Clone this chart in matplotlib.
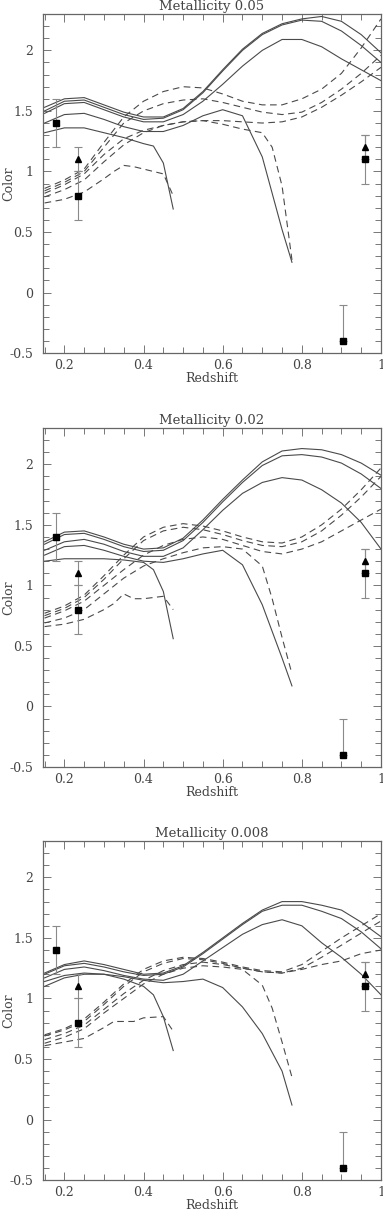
import numpy as np
import matplotlib
matplotlib.use("Agg")
import matplotlib.pyplot as plt
from matplotlib.ticker import MultipleLocator, FormatStrFormatter

plt.rcParams['font.family'] = ['DejaVu Serif']
plt.rcParams['axes.unicode_minus'] = False

# redshift grids
z = [0.15, 0.2, 0.25, 0.3, 0.35, 0.4, 0.45, 0.5, 0.55, 0.6, 0.65, 0.7, 0.75, 0.8, 0.85, 0.9, 0.95, 1.0]
z_s4 = [0.15, 0.2, 0.25, 0.3, 0.35, 0.4, 0.45, 0.5, 0.55, 0.6, 0.65, 0.7, 0.75, 0.775]
z_s5 = [0.15, 0.2, 0.25, 0.3, 0.35, 0.4, 0.425, 0.45, 0.475]
z_d4 = [0.15, 0.2, 0.25, 0.3, 0.35, 0.4, 0.45, 0.5, 0.55, 0.6, 0.65, 0.7, 0.725, 0.75, 0.775]
z_d5 = [0.15, 0.2, 0.25, 0.3, 0.325, 0.35, 0.375, 0.4, 0.45, 0.475]

titles = ["Metallicity 0.05", "Metallicity 0.02", "Metallicity 0.008"]

# Metallicity 0.05 - solid models
m05_s1 = [1.53, 1.60, 1.61, 1.55, 1.49, 1.45, 1.45, 1.52, 1.66, 1.84, 2.01, 2.14, 2.22, 2.26, 2.28, 2.24, 2.13, 1.98]
m05_s2 = [1.50, 1.58, 1.59, 1.53, 1.47, 1.43, 1.44, 1.51, 1.65, 1.83, 2.00, 2.13, 2.21, 2.25, 2.24, 2.16, 2.04, 1.90]
m05_s3 = [1.48, 1.56, 1.57, 1.51, 1.45, 1.41, 1.41, 1.47, 1.58, 1.72, 1.87, 2.00, 2.09, 2.09, 2.03, 1.93, 1.84, 1.75]
m05_s4 = [1.40, 1.47, 1.48, 1.43, 1.37, 1.33, 1.33, 1.38, 1.46, 1.51, 1.46, 1.12, 0.52, 0.25]
m05_s5 = [1.32, 1.36, 1.36, 1.32, 1.28, 1.23, 1.21, 1.07, 0.69]
# Metallicity 0.05 - dashed models
m05_d1 = [0.86, 0.93, 1.02, 1.24, 1.45, 1.58, 1.66, 1.70, 1.69, 1.64, 1.58, 1.55, 1.55, 1.60, 1.68, 1.81, 2.02, 2.26]
m05_d2 = [0.84, 0.91, 1.00, 1.20, 1.40, 1.50, 1.56, 1.59, 1.60, 1.57, 1.53, 1.49, 1.47, 1.49, 1.57, 1.68, 1.81, 1.96]
m05_d3 = [0.82, 0.89, 0.98, 1.14, 1.27, 1.34, 1.38, 1.41, 1.42, 1.42, 1.41, 1.40, 1.41, 1.45, 1.53, 1.63, 1.74, 1.86]
m05_d4 = [0.79, 0.85, 0.93, 1.08, 1.22, 1.32, 1.38, 1.41, 1.42, 1.39, 1.35, 1.32, 1.20, 0.88, 0.27]
m05_d5 = [0.74, 0.77, 0.83, 0.94, 1.00, 1.05, 1.04, 1.02, 0.98, 0.80]

# Metallicity 0.02
m02_s1 = [1.36, 1.44, 1.45, 1.40, 1.34, 1.30, 1.31, 1.39, 1.54, 1.71, 1.87, 2.02, 2.11, 2.13, 2.12, 2.08, 2.01, 1.91]
m02_s2 = [1.34, 1.42, 1.43, 1.38, 1.32, 1.28, 1.29, 1.37, 1.52, 1.69, 1.85, 1.99, 2.07, 2.08, 2.06, 2.01, 1.92, 1.80]
m02_s3 = [1.29, 1.36, 1.38, 1.34, 1.28, 1.24, 1.24, 1.31, 1.46, 1.62, 1.76, 1.85, 1.89, 1.87, 1.79, 1.68, 1.52, 1.30]
m02_s4 = [1.25, 1.32, 1.33, 1.29, 1.24, 1.20, 1.19, 1.22, 1.26, 1.29, 1.17, 0.84, 0.40, 0.17]
m02_s5 = [1.20, 1.22, 1.22, 1.22, 1.21, 1.19, 1.13, 0.95, 0.56]
m02_d1 = [0.77, 0.83, 0.92, 1.08, 1.25, 1.40, 1.48, 1.51, 1.49, 1.45, 1.40, 1.36, 1.35, 1.40, 1.50, 1.63, 1.79, 1.97]
m02_d2 = [0.75, 0.81, 0.90, 1.05, 1.22, 1.37, 1.45, 1.48, 1.46, 1.42, 1.37, 1.33, 1.32, 1.36, 1.45, 1.58, 1.73, 1.90]
m02_d3 = [0.73, 0.79, 0.87, 1.00, 1.13, 1.25, 1.33, 1.38, 1.40, 1.38, 1.33, 1.28, 1.26, 1.30, 1.36, 1.45, 1.54, 1.63]
m02_d4 = [0.69, 0.73, 0.80, 0.93, 1.06, 1.16, 1.22, 1.27, 1.31, 1.32, 1.30, 1.16, 0.89, 0.57, 0.27]
m02_d5 = [0.66, 0.68, 0.72, 0.80, 0.85, 0.93, 0.89, 0.89, 0.91, 0.80]

# Metallicity 0.008
m008_s1 = [1.21, 1.28, 1.31, 1.28, 1.24, 1.20, 1.21, 1.27, 1.38, 1.50, 1.62, 1.73, 1.80, 1.80, 1.77, 1.73, 1.63, 1.51]
m008_s2 = [1.20, 1.27, 1.29, 1.26, 1.22, 1.19, 1.20, 1.26, 1.37, 1.49, 1.61, 1.72, 1.77, 1.77, 1.72, 1.66, 1.55, 1.41]
m008_s3 = [1.17, 1.24, 1.26, 1.23, 1.19, 1.16, 1.15, 1.20, 1.31, 1.42, 1.53, 1.61, 1.65, 1.60, 1.46, 1.34, 1.20, 1.03]
m008_s4 = [1.10, 1.17, 1.20, 1.20, 1.18, 1.15, 1.13, 1.14, 1.16, 1.09, 0.93, 0.71, 0.40, 0.12]
m008_s5 = [1.14, 1.19, 1.21, 1.20, 1.16, 1.10, 1.03, 0.85, 0.57]
m008_d1 = [0.70, 0.75, 0.83, 0.97, 1.12, 1.24, 1.31, 1.34, 1.33, 1.30, 1.26, 1.23, 1.22, 1.28, 1.39, 1.50, 1.60, 1.70]
m008_d2 = [0.69, 0.74, 0.81, 0.95, 1.10, 1.22, 1.29, 1.33, 1.32, 1.29, 1.25, 1.22, 1.21, 1.25, 1.34, 1.44, 1.54, 1.64]
m008_d3 = [0.66, 0.71, 0.78, 0.91, 1.04, 1.15, 1.23, 1.28, 1.30, 1.28, 1.25, 1.22, 1.21, 1.24, 1.28, 1.31, 1.37, 1.40]
m008_d4 = [0.63, 0.68, 0.75, 0.88, 1.00, 1.12, 1.20, 1.25, 1.27, 1.26, 1.24, 1.11, 0.92, 0.64, 0.35]
m008_d5 = [0.61, 0.64, 0.67, 0.76, 0.81, 0.81, 0.81, 0.84, 0.85, 0.73]

# observed galaxies (same in every panel)
sq_z = [0.18, 0.235, 0.96, 0.905]
sq_c = [1.4, 0.8, 1.1, -0.4]
sq_err_lo = [0.2, 0.2, 0.2, 0.0]
sq_err_hi = [0.2, 0.2, 0.2, 0.3]
tri_z = [0.235, 0.96]
tri_c = [1.1, 1.2]
tri_err = [0.1, 0.1]

solid = [(m05_s1, m05_s2, m05_s3, m05_s4, m05_s5),
         (m02_s1, m02_s2, m02_s3, m02_s4, m02_s5),
         (m008_s1, m008_s2, m008_s3, m008_s4, m008_s5)]
dashed = [(m05_d1, m05_d2, m05_d3, m05_d4, m05_d5),
          (m02_d1, m02_d2, m02_d3, m02_d4, m02_d5),
          (m008_d1, m008_d2, m008_d3, m008_d4, m008_d5)]

line_col = '#4a4a4a'
text_col = '#444444'

fig = plt.figure(figsize=(3.83, 12.11), dpi=100)
tops = [0.9884, 0.6466, 0.3055]
h = 0.2800
for i in range(3):
    ax = fig.add_axes([0.1123, tops[i] - h, 0.8825, h])
    s1, s2, s3, s4, s5 = solid[i]
    for y in (s1, s2, s3):
        ax.plot(z, y, color=line_col, lw=0.8)
    ax.plot(z_s4, s4, color=line_col, lw=0.8)
    ax.plot(z_s5, s5, color=line_col, lw=0.8)
    d1, d2, d3, d4, d5 = dashed[i]
    for y in (d1, d2, d3):
        ax.plot(z, y, color=line_col, lw=0.8, dashes=(6, 4))
    ax.plot(z_d4, d4, color=line_col, lw=0.8, dashes=(6, 4))
    ax.plot(z_d5, d5, color=line_col, lw=0.8, dashes=(6, 4))

    ax.errorbar(sq_z, sq_c, yerr=[sq_err_lo, sq_err_hi], fmt='none',
                ecolor='#8a8a8a', elinewidth=0.8, capsize=3, capthick=0.8)
    ax.errorbar(tri_z, tri_c, yerr=tri_err, fmt='none',
                ecolor='#8a8a8a', elinewidth=0.8, capsize=3, capthick=0.8)
    ax.plot(sq_z, sq_c, 's', color='black', ms=4.2, zorder=5)
    ax.plot(tri_z, tri_c, '^', color='black', ms=4.5, zorder=5)

    ax.set_xlim(0.146, 1.0)
    ax.set_ylim(-0.5, 2.3)
    ax.xaxis.set_major_locator(MultipleLocator(0.2))
    ax.xaxis.set_minor_locator(MultipleLocator(0.05))
    ax.yaxis.set_major_locator(MultipleLocator(0.5))
    ax.yaxis.set_minor_locator(MultipleLocator(0.1))
    ax.xaxis.set_major_formatter(FormatStrFormatter('%g'))
    ax.yaxis.set_major_formatter(FormatStrFormatter('%g'))
    ax.tick_params(which='both', direction='in', top=True, right=True,
                   colors='#777777', labelcolor=text_col, labelsize=9)
    ax.tick_params(which='major', length=6, width=0.7)
    ax.tick_params(which='minor', length=4, width=0.7)
    ax.tick_params(axis='x', pad=4)
    ax.tick_params(axis='y', pad=7)
    for sp in ax.spines.values():
        sp.set_color('#666666')
        sp.set_linewidth(0.9)
    ax.set_title(titles[i], fontsize=9.5, color=text_col, pad=3)
    ax.set_xlabel('Redshift', fontsize=9, color=text_col, labelpad=0)
    ax.set_ylabel('Color', fontsize=9, color=text_col)
    ax.yaxis.set_label_coords(-0.082, 0.5)

fig.savefig('out.png', dpi=100)
